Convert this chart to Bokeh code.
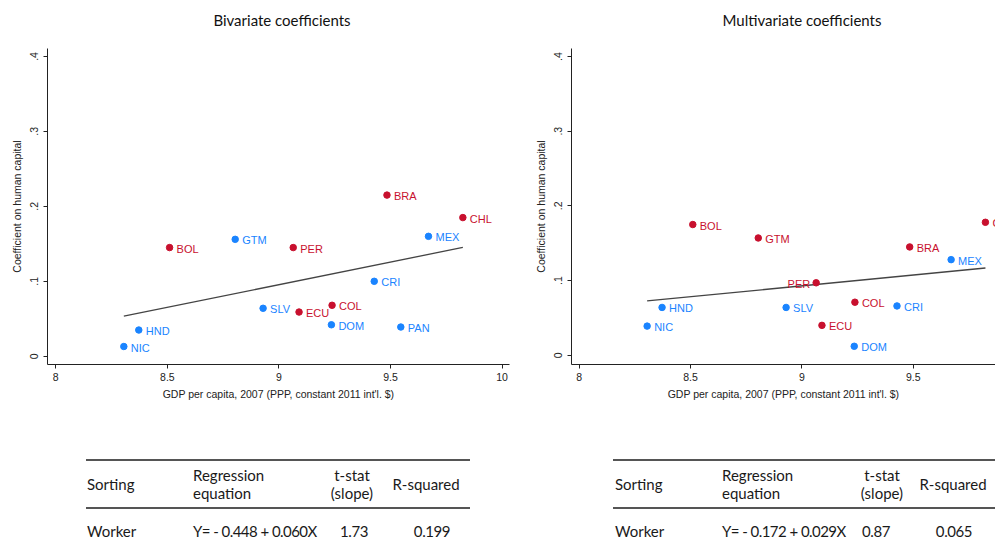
from bokeh.plotting import figure
from bokeh.models import FixedTicker, Div, ColumnDataSource
from bokeh.layouts import row, column
from bokeh.embed import file_html
from bokeh.resources import INLINE
from bokeh.core.properties import value

# ---------------- data ----------------
biv_countries = ["BRA", "CHL", "MEX", "BOL", "GTM", "PER", "CRI", "SLV", "ECU", "COL", "DOM", "PAN", "HND", "NIC"]
biv_gdp = [9.484, 9.824, 9.670, 8.510, 8.804, 9.064, 9.427, 8.929, 9.090, 9.238, 9.235, 9.546, 8.372, 8.305]
biv_coef = [0.215, 0.185, 0.160, 0.145, 0.156, 0.145, 0.100, 0.064, 0.059, 0.068, 0.042, 0.039, 0.035, 0.013]
biv_group = ["A", "A", "B", "A", "B", "A", "B", "B", "A", "A", "B", "B", "B", "B"]
biv_fit_x = [8.305, 9.824]
biv_fit_y = [0.0536, 0.1452]

mv_countries = ["BOL", "GTM", "CHL", "BRA", "MEX", "PER", "HND", "SLV", "COL", "CRI", "NIC", "ECU", "DOM"]
mv_gdp = [8.510, 8.804, 9.824, 9.484, 9.670, 9.064, 8.372, 8.929, 9.238, 9.427, 8.305, 9.090, 9.235]
mv_coef = [0.175, 0.157, 0.178, 0.145, 0.128, 0.097, 0.064, 0.064, 0.071, 0.066, 0.039, 0.040, 0.012]
mv_group = ["A", "A", "A", "A", "B", "A", "B", "B", "A", "B", "B", "A", "B"]
mv_fit_x = [8.305, 9.824]
mv_fit_y = [0.0727, 0.1168]

x_ticks = [8, 8.5, 9, 9.5, 10]
x_tick_labels = ["8", "8.5", "9", "9.5", "10"]
y_ticks = [0, 0.1, 0.2, 0.3, 0.4]
y_tick_labels = ["0", ".1", ".2", ".3", ".4"]

chart_titles = ["Bivariate coefficients", "Multivariate coefficients"]
table_headers = ["Sorting", "Regression<br>equation", "t-stat<br>(slope)", "R-squared"]
biv_row = ["Worker", "Y= - 0.448 + 0.060X", "1.73", "0.199"]
mv_row = ["Worker", "Y= - 0.172 + 0.029X", "0.87", "0.065"]

# ---------------- style ----------------
COLORS = {"A": "#C8102E", "B": "#1A84FF"}
AX = "#222222"
LABEL_FONT = "Liberation Sans"
HTML_FONT = "font-family:Lato;font-size:15px;color:#1a1a1a;line-height:18px;position:absolute;white-space:nowrap;"


def make_chart(names, xs, ys, groups, fx, fy, xr, yr, width, bl, br, bb, left_labels=()):
    p = figure(width=width, height=370, x_range=xr, y_range=yr,
               output_backend="svg", toolbar_location=None,
               min_border_left=bl, min_border_right=br, min_border_top=8,
               min_border_bottom=bb)
    p.outline_line_color = None
    p.grid.visible = False

    for ax in (p.xaxis[0], p.yaxis[0]):
        ax.axis_line_color = AX
        ax.major_tick_line_color = AX
        ax.minor_tick_line_color = None
        ax.major_tick_out = 4
        ax.major_tick_in = 0
        ax.major_label_text_font = LABEL_FONT
        ax.major_label_text_font_size = "10.5px"
        ax.major_label_text_color = AX
        ax.axis_label_text_font = LABEL_FONT
        ax.axis_label_text_font_size = "10.5px"
        ax.axis_label_text_font_style = "normal"
        ax.axis_label_text_color = AX

    p.xaxis.ticker = FixedTicker(ticks=x_ticks)
    p.xaxis.major_label_overrides = dict(zip(x_ticks, x_tick_labels))
    p.xaxis.axis_label = "GDP per capita, 2007 (PPP, constant 2011 int'l. $)"
    p.xaxis.major_label_standoff = 4
    p.xaxis.axis_label_standoff = 4

    p.yaxis.ticker = FixedTicker(ticks=y_ticks)
    p.yaxis.major_label_overrides = dict(zip(y_ticks, y_tick_labels))
    p.yaxis.major_label_orientation = "vertical"
    p.yaxis.axis_label = "Coefficient on human capital"
    p.yaxis.major_label_standoff = 5
    p.yaxis.axis_label_standoff = 5

    p.line(fx, fy, line_color="#444444", line_width=1.3)

    cols = [COLORS[g] for g in groups]
    src = ColumnDataSource(dict(x=xs, y=ys, name=names, color=cols))
    p.scatter("x", "y", source=src, size=6.5, fill_color="color", line_color="color")

    rmask = [n not in left_labels for n in names]

    def sub(keep):
        return ColumnDataSource(dict(
            x=[v for v, m in zip(xs, rmask) if m == keep],
            y=[v for v, m in zip(ys, rmask) if m == keep],
            name=[v for v, m in zip(names, rmask) if m == keep],
            color=[v for v, m in zip(cols, rmask) if m == keep]))

    common = dict(text="name", text_color="color", text_font=value(LABEL_FONT),
                  text_font_size="11px", text_baseline="middle")
    p.text("x", "y", source=sub(True), x_offset=7, y_offset=1, text_align="left", **common)
    p.text("x", "y", source=sub(False), x_offset=-6, y_offset=1, text_align="right", **common)
    return p


p1 = make_chart(biv_countries, biv_gdp, biv_coef, biv_group, biv_fit_x, biv_fit_y,
                (7.963, 10.033), (-0.011, 0.4106), 523, 47, 14, 44)
p2 = make_chart(mv_countries, mv_gdp, mv_coef, mv_group, mv_fit_x, mv_fit_y,
                (7.9654, 9.8693), (-0.0124, 0.4107), 472, 48, 0, 46, left_labels=("PER",))

TITLE_STYLE = "font-family:Lato;font-size:15px;color:#111;position:absolute;white-space:nowrap;transform:translate(-50%,-50%);top:21px;"
title_html = ('<div style="position:relative;width:995px;height:40px;overflow:hidden;">'
              f'<div style="{TITLE_STYLE}left:282px;">{chart_titles[0]}</div>'
              f'<div style="{TITLE_STYLE}left:802px;">{chart_titles[1]}</div>'
              '</div>')
title_div = Div(text=title_html, width=995, height=40, margin=0)


def table(x_line0, x_line1, x_sort, x_eq, x_t, x_r, x_tv, x_rv, vals):
    h = []
    for top in (49, 97):
        h.append(f'<div style="position:absolute;left:{x_line0}px;top:{top}px;width:{x_line1 - x_line0}px;'
                 f'height:2px;background:#555;"></div>')
    h.append(f'<div style="{HTML_FONT}left:{x_sort}px;top:74px;transform:translateY(-50%);">{table_headers[0]}</div>')
    h.append(f'<div style="{HTML_FONT}left:{x_eq}px;top:74px;transform:translateY(-50%);">{table_headers[1]}</div>')
    h.append(f'<div style="{HTML_FONT}left:{x_t}px;top:74px;transform:translate(-50%,-50%);text-align:center;">{table_headers[2]}</div>')
    h.append(f'<div style="{HTML_FONT}left:{x_r}px;top:74px;transform:translate(-50%,-50%);">{table_headers[3]}</div>')
    h.append(f'<div style="{HTML_FONT}left:{x_sort}px;top:121px;transform:translateY(-50%);">{vals[0]}</div>')
    h.append(f'<div style="{HTML_FONT}left:{x_eq}px;top:121px;transform:translateY(-50%);letter-spacing:-0.55px;">{vals[1]}</div>')
    h.append(f'<div style="{HTML_FONT}left:{x_tv}px;top:121px;transform:translate(-50%,-50%);letter-spacing:-0.4px;">{vals[2]}</div>')
    h.append(f'<div style="{HTML_FONT}left:{x_rv}px;top:121px;transform:translate(-50%,-50%);letter-spacing:-0.4px;">{vals[3]}</div>')
    return "".join(h)


table_html = ('<div style="position:relative;width:995px;height:134px;overflow:hidden;">'
              + table(86, 470, 87, 193, 352, 426, 354, 432, biv_row)
              + table(613, 995, 615, 722, 882, 953, 876, 954, mv_row)
              + '</div>')
table_div = Div(text=table_html, width=995, height=134, margin=0)

layout = column(title_div, row(p1, p2), table_div)

open("out.html", "w").write(file_html(layout, INLINE))
